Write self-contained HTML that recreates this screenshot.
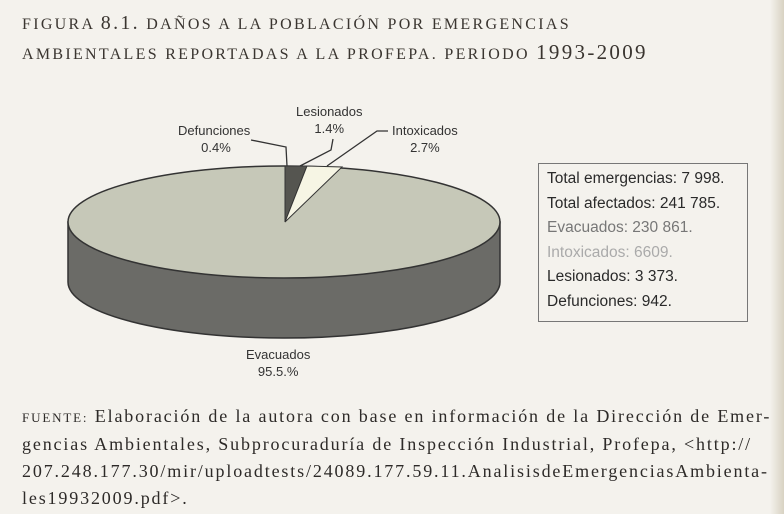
<!DOCTYPE html>
<html><head><meta charset="utf-8"><style>
body{margin:0;width:784px;height:514px;background:#f4f2ed;position:relative;overflow:hidden;font-family:"Liberation Sans",sans-serif}
.t{position:absolute;left:22px;font-family:"Liberation Serif",serif;color:#3a3530;font-size:16px;letter-spacing:2.3px;white-space:nowrap}
.f{position:absolute;left:22px;font-family:"Liberation Serif",serif;color:#2d2a28;font-size:18px;letter-spacing:1.85px;white-space:nowrap;line-height:27px}
.l{position:absolute;font-size:13px;color:#333;text-align:center;line-height:17px}
.box{position:absolute;left:538px;top:163px;width:210px;height:159px;border:1px solid #777;box-sizing:border-box;padding:3px 0 0 8px;font-size:15.5px;line-height:24.5px;color:#2a2a2a;white-space:nowrap}
</style></head><body>
<div style="position:absolute;right:0;top:0;width:14px;height:514px;background:linear-gradient(90deg,#f4f2ed,#d8d2c2)"></div>
<div class="t" style="top:12px">FIGURA <span style="font-size:20px">8.1.</span> DAÑOS A LA POBLACIÓN POR EMERGENCIAS</div>
<div class="t" style="top:40px">AMBIENTALES REPORTADAS A LA PROFEPA. PERIODO <span style="font-size:21px">1993-2009</span></div>
<svg width="784" height="514" style="position:absolute;left:0;top:0">
<path d="M68,222 L68,282 A216,56 0 0 0 500,282 L500,222 Z" fill="#6b6b67" stroke="#333" stroke-width="1.5"/>
<ellipse cx="284" cy="222" rx="216" ry="56" fill="#c6c8b8" stroke="#333" stroke-width="1.5"/>
<polygon points="285,222 285,166 307,166" fill="#555550" stroke="#333"/>
<polygon points="285,222 307,166 342,167" fill="#f6f5e4" stroke="#333"/>
<polyline points="251,140 286,147 287,166" fill="none" stroke="#333" stroke-width="1.3"/>
<polyline points="333,139 331,150 300,166" fill="none" stroke="#333" stroke-width="1.3"/>
<polyline points="388,131 377,131 327,166" fill="none" stroke="#333" stroke-width="1.3"/>
</svg>
<div class="l" style="left:296px;top:103px">Lesionados<br>1.4%</div>
<div class="l" style="left:178px;top:122px">Defunciones<br>&nbsp;0.4%</div>
<div class="l" style="left:392px;top:122px">Intoxicados<br>2.7%</div>
<div class="l" style="left:246px;top:346px">Evacuados<br>95.5.%</div>
<div class="box">Total emergencias: 7 998.<br>Total afectados: 241 785.<br><span style="color:#777">Evacuados: 230 861.</span><br><span style="color:#aaa">Intoxicados: 6609.</span><br>Lesionados: 3 373.<br>Defunciones: 942.</div>
<div class="f" style="top:403px"><span style="font-size:13px">FUENTE:</span> Elaboración de la autora con base en información de la Dirección de Emer-<br>gencias Ambientales, Subprocuraduría de Inspección Industrial, Profepa, &lt;http://<br>207.248.177.30/mir/uploadtests/24089.177.59.11.AnalisisdeEmergenciasAmbienta-<br>les19932009.pdf&gt;.</div>
</body></html>
